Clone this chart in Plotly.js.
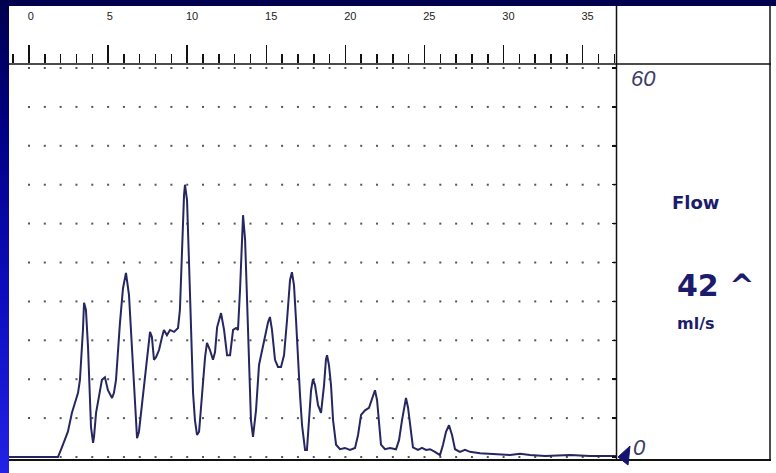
<!DOCTYPE html>
<html>
<head>
<meta charset="utf-8">
<script src="https://cdn.plot.ly/plotly-3.0.1.min.js"></script>
<style>
  html, body { margin: 0; padding: 0; width: 776px; height: 473px; overflow: hidden;
    background: linear-gradient(to bottom, #00004e 0%, #000080 25%, #0c0cbc 60%, #2222e6 100%); }
  #chart { position: absolute; left: 0; top: 0; width: 776px; height: 473px; }
</style>
</head>
<body>
<div id="chart"></div>
<script>
// ---- data (time in s, flow in ml/s) ----
const timeS = [-1.3, 1.83, 2.08, 2.46, 2.71, 2.90, 3.10, 3.22, 3.29, 3.35, 3.41, 3.48, 3.60, 3.73, 3.79, 3.86, 3.92, 4.05, 4.11,
  4.24, 4.43, 4.61, 4.80, 4.99, 5.25, 5.37, 5.50, 5.63, 5.75, 5.94, 6.13, 6.32, 6.45, 6.57, 6.70, 6.76, 6.83, 6.95,
  7.08, 7.27, 7.39, 7.52, 7.65, 7.77, 7.90, 8.03, 8.22, 8.41, 8.53, 8.72, 8.91, 9.17, 9.42, 9.54, 9.67, 9.80, 9.86,
  9.99, 10.11, 10.24, 10.37, 10.49, 10.62, 10.75, 10.87, 11.00, 11.13, 11.25, 11.44, 11.63, 11.76, 11.89, 12.14,
  12.33, 12.52, 12.71, 12.90, 13.09, 13.21, 13.34, 13.47, 13.53, 13.66, 13.78, 13.91, 14.03, 14.16, 14.35, 14.54,
  14.73, 14.92, 15.11, 15.23, 15.36, 15.55, 15.74, 15.93, 16.12, 16.31, 16.50, 16.62, 16.75, 16.88, 17.00, 17.13,
  17.26, 17.45, 17.57, 17.70, 17.83, 17.95, 18.08, 18.27, 18.46, 18.65, 18.77, 18.84, 18.96, 19.09, 19.22, 19.41,
  19.66, 19.97, 20.29, 20.61, 20.80, 20.99, 21.24, 21.49, 21.68, 21.87, 22.00, 22.12, 22.25, 22.50, 22.82, 23.20,
  23.39, 23.58, 23.77, 23.83, 23.96, 24.08, 24.27, 24.59, 24.84, 25.10, 25.35, 25.66, 25.98, 26.17, 26.36, 26.55,
  26.74, 26.93, 27.24, 27.56, 27.88, 28.51, 29.14, 29.77, 30.40, 31.04, 31.67, 32.62, 34.20, 35.46, 37.10];
const flowMlS = [0, 0, 1.5, 3.9, 6.8, 8.3, 9.9, 11.9, 14.5, 16.5, 19.6, 23.8, 22.7, 17.0, 11.9, 7.7, 4.6, 2.2, 3.1,
  6.8, 9.3, 11.9, 12.3, 10.3, 9.1, 9.9, 11.9, 17.0, 20.7, 26.0, 28.4, 25.0, 19.6, 14.5, 8.8, 5.2, 2.9, 3.9,
  6.8, 10.3, 13.4, 16.5, 19.3, 18.5, 15.0, 15.4, 16.5, 18.5, 19.6, 18.8, 19.6, 19.3, 19.9, 22.7, 32.7, 40.4, 42.0,
  39.6, 30.4, 18.0, 9.9, 5.7, 3.4, 3.9, 7.7, 12.3, 15.4, 17.6, 16.5, 15.0, 16.2, 20.0, 22.2,
  19.6, 15.7, 15.7, 19.6, 19.9, 19.6, 25.8, 35.0, 37.3, 33.5, 24.2, 11.9, 5.7, 3.1, 7.2, 14.2,
  16.5, 18.4, 20.8, 21.6, 19.6, 15.0, 13.9, 13.9, 15.7, 21.1, 27.3, 28.5, 26.5, 21.1, 15.0, 9.6,
  4.9, 1.1, 1.1, 5.7, 10.3, 12.0, 11.1, 8.0, 6.8, 11.1, 15.0, 15.7, 14.2, 11.1, 5.7, 1.9,
  1.2, 1.4, 1.1, 1.4, 3.4, 6.5, 7.2, 7.6, 8.8, 10.3, 8.8, 4.9, 1.9, 1.2, 1.4, 1.2,
  2.6, 5.7, 8.8, 9.1, 7.6, 4.9, 1.5, 1.1, 1.4, 1.1, 1.2, 0.8, 0.3, 1.9, 3.9, 4.9,
  3.4, 1.2, 0.8, 1.1, 0.8, 0.6, 0.5, 0.5, 0.3, 0.5, 0.3, 0.15, 0.3, 0.15, 0.15];
const rulerTicks = [0, 5, 10, 15, 20, 25, 30, 35];
const rulerLabels = ["0", "5", "10", "15", "20", "25", "30", "35"];
const flowMax = 60;
const flowMin = 0;
const peakText = "42 ^";
const panelTitle = "Flow";
const unitText = "ml/s";

// ---- grid dots at every second / every 6 ml/s ----
const gx = [], gy = [];
for (let t = 0; t <= 37; t++) {
  for (let f = 0; f <= 60; f += 6) { gx.push(t); gy.push(f); }
  gx.push(t); gy.push(-1.4);
}

const navy = '#1c1c6c';
const traces = [
  { x: gx, y: gy, mode: 'markers', type: 'scatter', hoverinfo: 'skip', cliponaxis: false,
    marker: { symbol: 'square', size: 2, color: '#555555', line: { width: 0 } } },
  { x: timeS, y: flowMlS, mode: 'lines', type: 'scatter', hoverinfo: 'skip',
    line: { color: '#262660', width: 2 } }
];

const pxX = p => (p - 9) / 607;      // paper x from pixel
const pxY = p => (460 - p) / 396;    // paper y from pixel

const layout = {
  width: 776, height: 473,
  margin: { l: 9, r: 160, t: 64, b: 13, pad: 0 },
  paper_bgcolor: 'rgba(0,0,0,0)',
  plot_bgcolor: 'rgba(0,0,0,0)',
  showlegend: false,
  xaxis: {
    range: [-1.264, 37.105], side: 'top', showgrid: false, zeroline: false, showline: false,
    tickmode: 'array', tickvals: rulerTicks, ticktext: rulerLabels,
    ticks: 'outside', ticklen: 18, tickwidth: 1.5, tickcolor: '#111',
    minor: { ticks: 'outside', dtick: 1, tick0: 0, ticklen: 9, tickwidth: 1.5, tickcolor: '#111', showgrid: false },
    ticklabelposition: 'outside right', ticklabelstandoff: 39, ticklabelshift: -2,
    tickfont: { family: 'Liberation Sans, Arial, sans-serif', size: 11, color: '#222' }
  },
  yaxis: {
    range: [-0.46, 60.62], side: 'right', showgrid: false, zeroline: false, showline: false,
    tick0: 0, dtick: 6, ticks: 'inside', ticklen: 4, tickwidth: 1.5, tickcolor: '#111',
    showticklabels: false
  },
  shapes: [
    { type: 'rect', xref: 'paper', yref: 'paper', x0: pxX(9), x1: pxX(777), y0: pxY(474), y1: pxY(6),
      fillcolor: '#ffffff', line: { width: 0 }, layer: 'below' },
    { type: 'line', xref: 'paper', yref: 'paper', x0: pxX(9), x1: pxX(771), y0: pxY(64), y1: pxY(64),
      line: { color: '#111', width: 1.5 } },
    { type: 'line', xref: 'paper', yref: 'paper', x0: pxX(9), x1: pxX(771), y0: pxY(460), y1: pxY(460),
      line: { color: '#111', width: 2 } },
    { type: 'line', xref: 'paper', yref: 'paper', x0: pxX(616.5), x1: pxX(616.5), y0: pxY(461), y1: pxY(6),
      line: { color: '#111', width: 1.5 } },
    { type: 'line', xref: 'paper', yref: 'paper', x0: pxX(770), x1: pxX(770), y0: pxY(461), y1: pxY(6),
      line: { color: '#111', width: 1.5 } },
    // pointer marking the zero level on the right axis
    { type: 'path', xref: 'paper', yref: 'paper',
      path: 'M ' + pxX(618) + ' ' + pxY(457) + ' L ' + pxX(630) + ' ' + pxY(446) +
            ' L ' + pxX(628) + ' ' + pxY(465) + ' Z',
      fillcolor: '#141470', line: { color: '#141470', width: 1 } }
  ],
  annotations: [
    { xref: 'paper', yref: 'y', x: pxX(629), y: flowMax, xanchor: 'left', yanchor: 'top', yshift: 4,
      text: String(flowMax), showarrow: false,
      font: { family: 'Liberation Sans, Arial, sans-serif', size: 22, color: '#3c3c68', style: 'italic' } },
    { xref: 'paper', yref: 'y', x: pxX(631), y: flowMin, xanchor: 'left', yanchor: 'bottom', yshift: -5,
      text: String(flowMin), showarrow: false,
      font: { family: 'Liberation Sans, Arial, sans-serif', size: 22, color: '#3c3c68', style: 'italic' } },
    { xref: 'paper', yref: 'paper', x: pxX(695), y: pxY(202), xanchor: 'center', yanchor: 'middle',
      text: '<b>' + panelTitle + '</b>', showarrow: false,
      font: { family: 'DejaVu Sans, sans-serif', size: 18, color: navy } },
    { xref: 'paper', yref: 'paper', x: pxX(715), y: pxY(285), xanchor: 'center', yanchor: 'middle',
      text: '<b>' + peakText + '</b>', showarrow: false,
      font: { family: 'DejaVu Sans, sans-serif', size: 30, color: navy } },
    { xref: 'paper', yref: 'paper', x: pxX(696), y: pxY(323), xanchor: 'center', yanchor: 'middle',
      text: '<b>' + unitText + '</b>', showarrow: false,
      font: { family: 'DejaVu Sans, sans-serif', size: 16, color: navy } }
  ]
};

Plotly.newPlot('chart', traces, layout, { staticPlot: true, displayModeBar: false });
</script>
</body>
</html>
